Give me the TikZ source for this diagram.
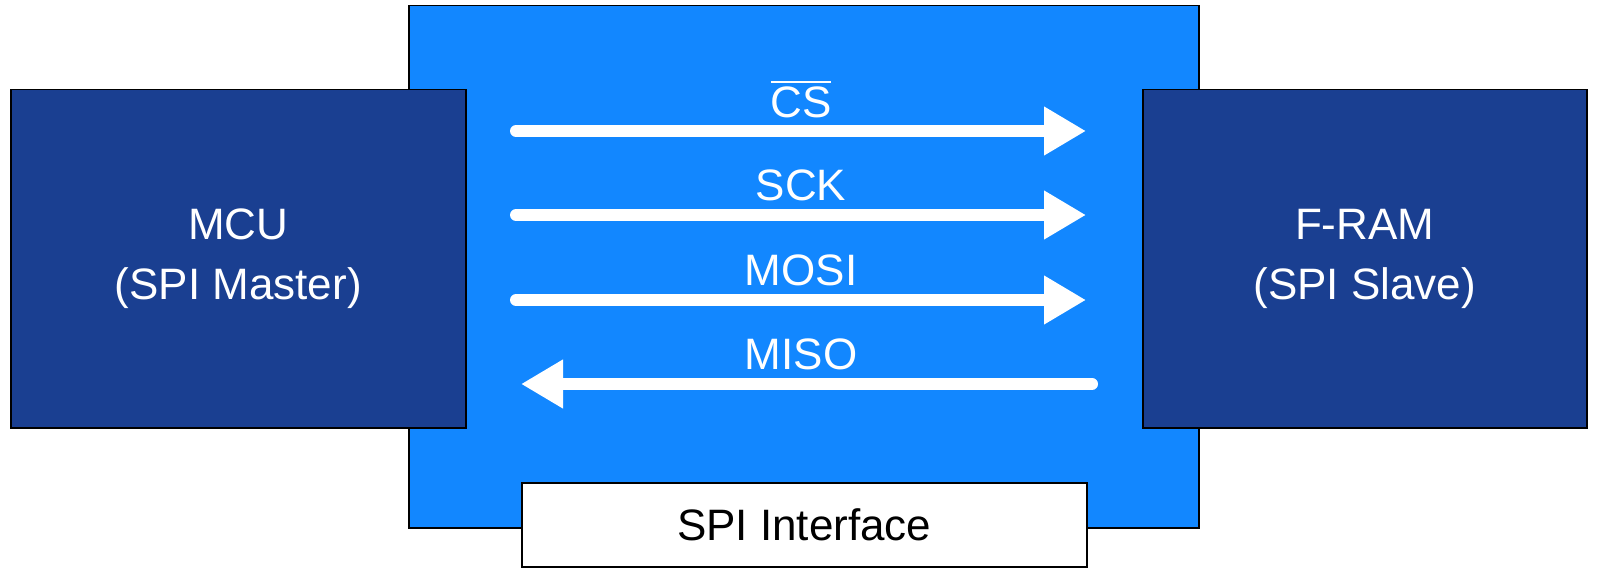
\documentclass[tikz,border=0pt]{standalone}
\usepackage{fontspec}
\setmainfont{Liberation Sans}
\usetikzlibrary{arrows.meta}
\definecolor{bright}{HTML}{1287FF}
\definecolor{dark}{HTML}{1A3F91}
\begin{document}
\begin{tikzpicture}[x=1pt,y=-1pt,
  box/.style={draw=black,line width=1.5pt,inner sep=0pt,anchor=north west},
  lbl/.style={text=white,font=\fontsize{44}{60}\selectfont,align=center},
  sig/.style={draw=white,line width=12pt,line cap=round,-{Triangle[length=42pt,width=46pt]}}]
\useasboundingbox (0,0) rectangle (1601,569);
\node[box,fill=bright,minimum width=790pt,minimum height=522pt] (bus) at (408,5) {};
\node[box,fill=dark,minimum width=455pt,minimum height=338pt] (mcu) at (10,89) {};
\node[box,fill=dark,minimum width=444pt,minimum height=338pt] (fram) at (1142,89) {};
\node[lbl] (mcut) at (mcu.center) {MCU\\(SPI Master)};
\node[lbl] (framt) at (fram.center) {F-RAM\\(SPI Slave)};
\node[box,fill=white,minimum width=565pt,minimum height=84pt] (iface) at (521,482) {};
\node[font=\fontsize{44}{50}\selectfont] (ifacet) at (iface.center) {SPI Interface};
\coordinate (a1) at (516,131); \coordinate (b1) at (1086,131);
\coordinate (a2) at (516,215); \coordinate (b2) at (1086,215);
\coordinate (a3) at (516,300); \coordinate (b3) at (1086,300);
\coordinate (a4) at (521,384); \coordinate (b4) at (1092,384);
\draw[sig] (a1) -- (b1);
\draw[sig] (a2) -- (b2);
\draw[sig] (a3) -- (b3);
\draw[sig] (b4) -- (a4);
\node[lbl] (cs) at (801,102) {CS};
\draw[white,line width=2.5pt] ([yshift=1pt,xshift=4pt]cs.north west) -- ([yshift=1pt,xshift=-4pt]cs.north east);
\node[lbl] (sck) at (801,185) {SCK};
\node[lbl] (mosi) at (801,270) {MOSI};
\node[lbl] (miso) at (801,354) {MISO};
\end{tikzpicture}
\end{document}
